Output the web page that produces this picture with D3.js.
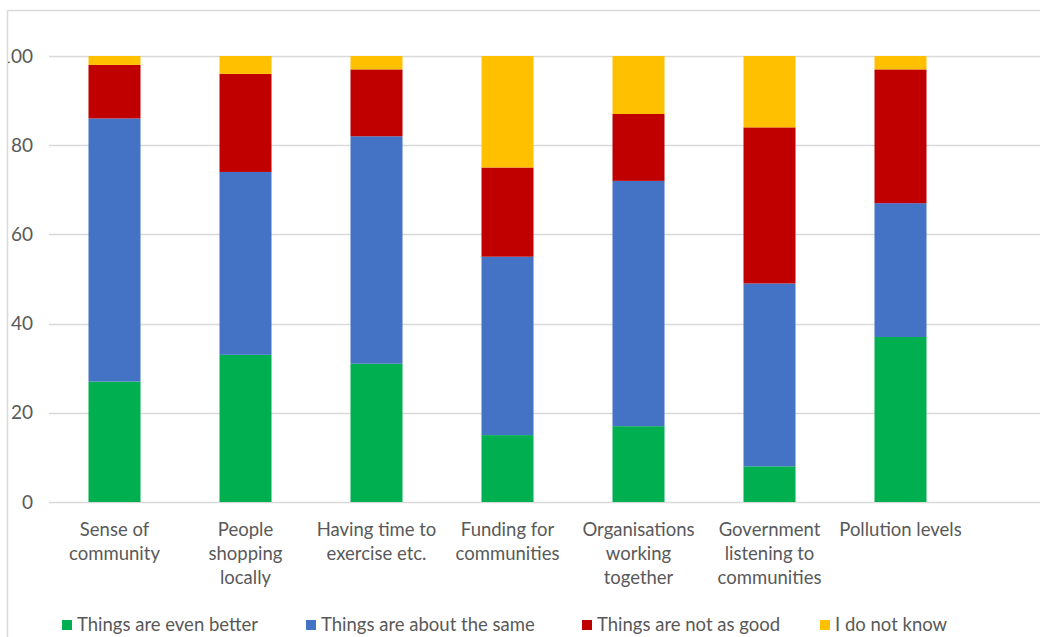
<!DOCTYPE html>
<html><head><meta charset="utf-8">
<script src="https://cdn.jsdelivr.net/npm/d3@7"></script>
<style>body{margin:0;background:#fff;}svg{display:block;font-family:Lato,"Open Sans",sans-serif;}</style>
</head><body>
<svg id="c" width="1040" height="637"></svg>
<script>
const categories = [
  ["Sense of","community"],
  ["People","shopping","locally"],
  ["Having time to","exercise etc."],
  ["Funding for","communities"],
  ["Organisations","working","together"],
  ["Government","listening to","communities"],
  ["Pollution levels"]
];
const seriesNames = ["Things are even better","Things are about the same","Things are not as good","I do not know"];
const colors = ["#00B050","#4472C4","#C00000","#FFC000"];
const evenBetter = [27,33,31,15,17,8,37];
const aboutSame = [59,41,51,40,55,41,30];
const notAsGood = [12,22,15,20,15,35,30];
const doNotKnow = [2,4,3,25,13,16,3];
const yTicks = [0,20,40,60,80,100];

const svg = d3.select("#c");
const W = 1040, H = 637;
const keys = categories.map((c,i)=>"c"+i);
const rows = keys.map((k,i)=>({key:k, s0:evenBetter[i], s1:aboutSame[i], s2:notAsGood[i], s3:doNotKnow[i]}));
const stack = d3.stack().keys(["s0","s1","s2","s3"])(rows);

const x = d3.scaleBand().domain(keys).range([49,966]).paddingInner(0.603).paddingOuter(0.3015);
const y = d3.scaleLinear().domain([0,100]).range([502,56]);

svg.append("defs").append("clipPath").attr("id","lc").append("rect")
  .attr("x",8).attr("y",0).attr("width",W).attr("height",H);

// chart border
svg.append("line").attr("x1",7.5).attr("x2",W).attr("y1",10.5).attr("y2",10.5).attr("stroke","#d9d9d9").attr("stroke-width",1.5);
svg.append("line").attr("x1",7.5).attr("x2",7.5).attr("y1",10.5).attr("y2",H).attr("stroke","#d9d9d9").attr("stroke-width",1.5);

// gridlines
svg.append("g").selectAll("line").data(yTicks).join("line")
  .attr("x1",49).attr("x2",W).attr("y1",d=>Math.round(y(d))+0.5).attr("y2",d=>Math.round(y(d))+0.5)
  .attr("stroke","#d9d9d9").attr("stroke-width",1.5);

// y labels
svg.append("g").attr("clip-path","url(#lc)").selectAll("text").data(yTicks).join("text")
  .attr("x",33).attr("y",d=>y(d)).attr("dy","0.35em").attr("text-anchor","end")
  .attr("fill","#595959").attr("font-size",19).text(d=>d);

// bars
svg.append("g").selectAll("g").data(stack).join("g").attr("fill",(d,i)=>colors[i])
  .selectAll("rect").data(d=>d).join("rect")
  .attr("x",d=>x(d.data.key)).attr("width",x.bandwidth())
  .attr("y",d=>y(d[1])).attr("height",d=>y(d[0])-y(d[1]));

// category labels
const cl = svg.append("g").selectAll("text").data(categories).join("text")
  .attr("text-anchor","middle").attr("fill","#595959").attr("font-size",18.5)
  .attr("transform",(d,i)=>`translate(${x(keys[i])+x.bandwidth()/2},536)`);
cl.selectAll("tspan").data(d=>d).join("tspan").attr("x",0).attr("y",(d,j)=>j*24).text(d=>d);

// legend
const legX = [62,306,582,820];
const lg = svg.append("g").selectAll("g").data(seriesNames).join("g")
  .attr("transform",(d,i)=>`translate(${legX[i]},625)`);
lg.append("rect").attr("x",0).attr("y",-5).attr("width",10).attr("height",10).attr("fill",(d,i)=>colors[i]);
lg.append("text").attr("x",15).attr("y",0).attr("dy","0.35em").attr("fill","#595959").attr("font-size",18.5).text(d=>d);
</script>
</body></html>
